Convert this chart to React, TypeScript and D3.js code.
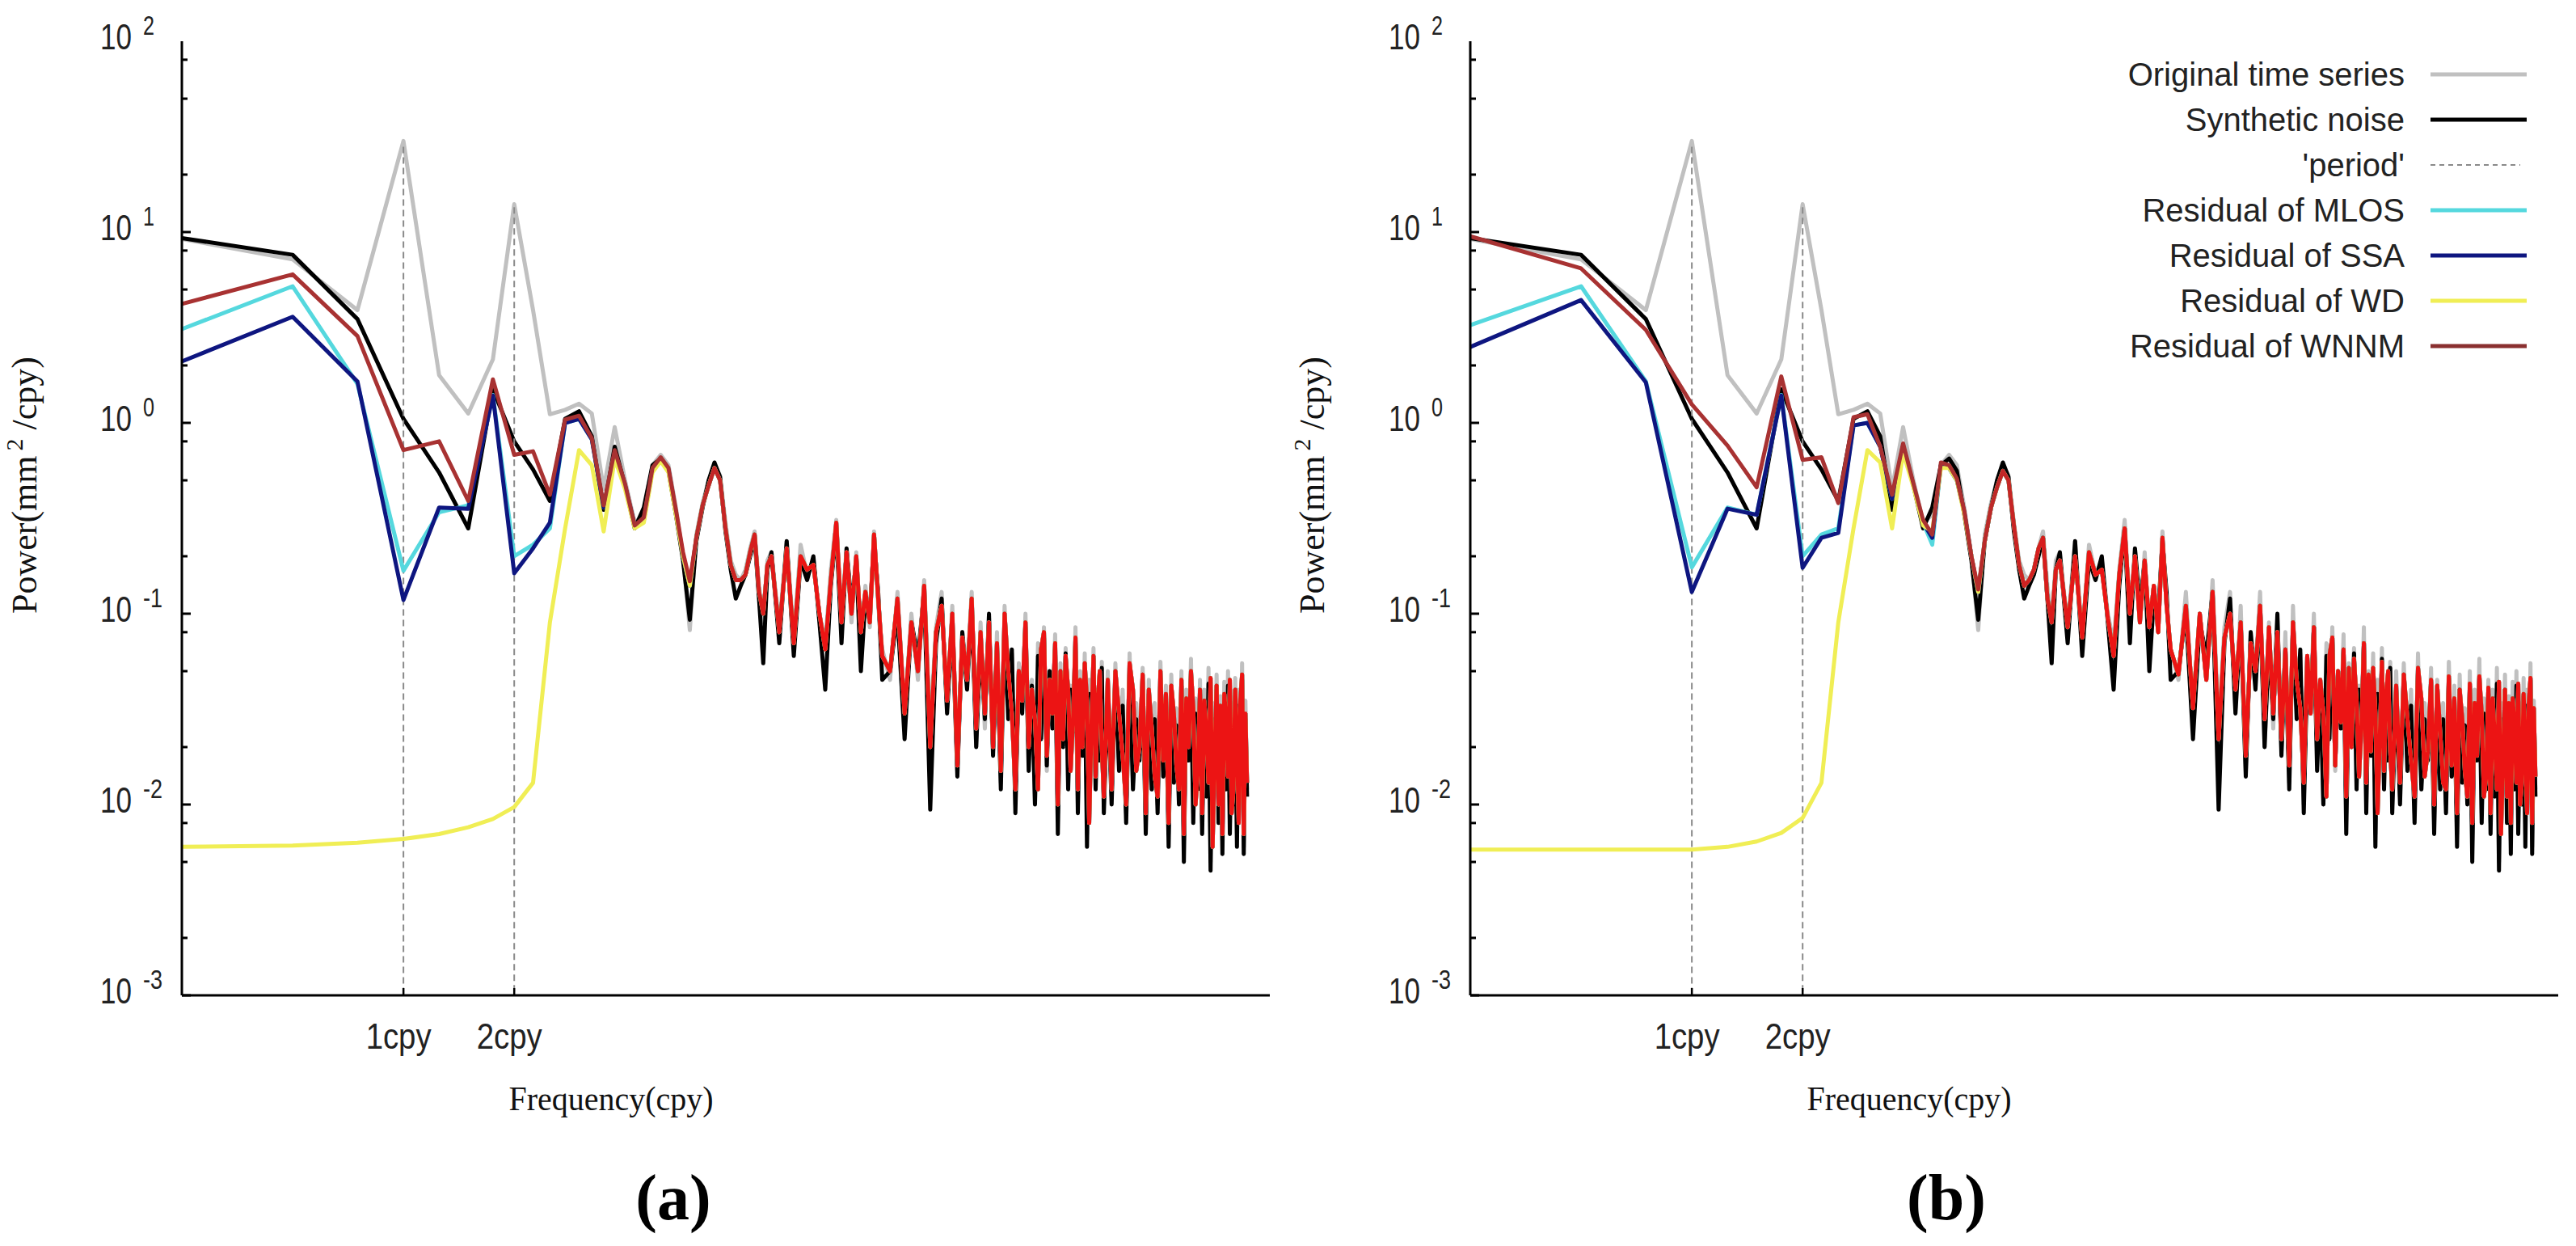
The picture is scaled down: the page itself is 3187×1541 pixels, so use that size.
import { useEffect } from 'react';
import * as d3 from 'd3';

type Pt = [number, number];

// frequency bins (cpy) of the low end, one every 0.25 cpy
const lowFreqs = [0.25, 0.5, 0.75, 1, 1.25, 1.5, 1.75, 2, 2.25, 2.5, 2.75, 3, 3.25, 3.5, 3.75, 4, 4.25, 4.5, 4.75, 5, 5.25, 5.5, 5.75, 6];

// thinned frequency bins of the noisy high end
const tailFreqs = [
  6.25, 6.5, 6.75, 7, 7.25, 7.5, 7.75, 8, 8.25, 8.5, 8.75, 9, 9.25, 9.5, 9.75, 10,
  10.5, 11, 11.5, 12, 12.5, 13, 13.5, 14, 14.5, 15, 15.5, 16, 16.5, 17, 17.5, 18, 18.5, 19, 19.5, 20,
  21, 22, 23, 24, 25, 26, 27, 28, 29, 30, 31, 32, 33, 34, 35, 36, 37, 38, 39, 40,
  41, 42, 43, 44, 45, 46, 47, 48, 49, 50, 51, 52, 53, 54, 55, 56, 57, 58, 59, 60,
  61, 62, 63, 64, 65, 66, 67, 68, 69, 70, 71, 72, 73, 74, 75, 76, 77, 78, 79, 80,
  82, 84, 86, 88, 90, 92, 94, 96, 98, 100, 102, 104, 106, 108, 110, 112, 114, 116, 118, 120,
  122, 124, 126, 128, 130, 132, 134, 136, 138, 140, 142, 144, 146, 148, 150, 152, 154, 156, 158, 160,
  162, 164, 166, 168, 170, 172, 174, 176, 178, 180, 182, 184, 186, 188, 190, 192, 194, 196,
];

// original time series and synthetic noise (same in both panels)
const originalLow = [9.2, 7.2, 3.9, 30, 1.78, 1.12, 2.15, 14, 3.9, 1.11, 1.17, 1.26, 1.12, 0.45, 0.95, 0.5, 0.3, 0.33, 0.6, 0.68, 0.6, 0.36, 0.2, 0.082];
const originalTail = [
  0.26, 0.38, 0.5, 0.6, 0.53, 0.3, 0.19, 0.16, 0.15, 0.17, 0.22, 0.27, 0.14, 0.09, 0.19, 0.21,
  0.085, 0.24, 0.075, 0.23, 0.16, 0.19, 0.1, 0.07, 0.17, 0.31, 0.1, 0.22, 0.09, 0.21, 0.075, 0.14, 0.085, 0.27, 0.11, 0.065,
  0.045, 0.13, 0.03, 0.1, 0.045, 0.15, 0.025, 0.085, 0.13, 0.032, 0.11, 0.015, 0.08, 0.05, 0.13, 0.02, 0.09, 0.025, 0.095, 0.019,
  0.08, 0.013, 0.11, 0.03, 0.062, 0.01, 0.055, 0.032, 0.1, 0.018, 0.045, 0.01, 0.07, 0.022, 0.085, 0.015, 0.05, 0.026, 0.078, 0.009,
  0.055, 0.02, 0.066, 0.013, 0.042, 0.025, 0.085, 0.01, 0.05, 0.018, 0.062, 0.007, 0.045, 0.022, 0.066, 0.012, 0.04, 0.018, 0.056, 0.01,
  0.05, 0.011, 0.055, 0.016, 0.04, 0.009, 0.062, 0.013, 0.034, 0.018, 0.052, 0.008, 0.045, 0.012, 0.034, 0.01, 0.056, 0.015, 0.042, 0.007,
  0.048, 0.014, 0.032, 0.011, 0.05, 0.0065, 0.04, 0.018, 0.058, 0.009, 0.036, 0.013, 0.045, 0.008, 0.04, 0.012, 0.052, 0.005, 0.034, 0.016,
  0.048, 0.009, 0.037, 0.0065, 0.044, 0.013, 0.05, 0.008, 0.034, 0.011, 0.046, 0.007, 0.04, 0.014, 0.055, 0.006, 0.035, 0.012,
];
const syntheticLow = [9.3, 7.6, 3.5, 1.05, 0.55, 0.28, 1.5, 0.8, 0.57, 0.39, 1.05, 1.15, 0.85, 0.35, 0.75, 0.47, 0.28, 0.36, 0.6, 0.65, 0.56, 0.33, 0.19, 0.093];
const syntheticTail = [
  0.24, 0.36, 0.5, 0.62, 0.52, 0.27, 0.17, 0.12, 0.14, 0.16, 0.2, 0.25, 0.12, 0.055, 0.17, 0.21,
  0.07, 0.24, 0.06, 0.19, 0.15, 0.2, 0.09, 0.04, 0.14, 0.28, 0.07, 0.22, 0.11, 0.19, 0.05, 0.12, 0.1, 0.24, 0.13, 0.045,
  0.05, 0.1, 0.022, 0.09, 0.06, 0.13, 0.0094, 0.07, 0.12, 0.03, 0.09, 0.014, 0.08, 0.04, 0.11, 0.02, 0.07, 0.028, 0.1, 0.018,
  0.065, 0.012, 0.09, 0.028, 0.065, 0.009, 0.05, 0.03, 0.085, 0.015, 0.042, 0.01, 0.06, 0.022, 0.075, 0.016, 0.05, 0.025, 0.065, 0.007,
  0.048, 0.02, 0.062, 0.012, 0.04, 0.024, 0.07, 0.009, 0.042, 0.018, 0.05, 0.006, 0.038, 0.022, 0.058, 0.012, 0.033, 0.017, 0.052, 0.009,
  0.04, 0.01, 0.048, 0.015, 0.033, 0.008, 0.05, 0.012, 0.028, 0.017, 0.044, 0.007, 0.038, 0.012, 0.028, 0.009, 0.046, 0.014, 0.036, 0.006,
  0.04, 0.013, 0.026, 0.01, 0.042, 0.005, 0.034, 0.017, 0.046, 0.008, 0.03, 0.012, 0.038, 0.007, 0.032, 0.011, 0.043, 0.0045, 0.028, 0.015,
  0.04, 0.008, 0.031, 0.0055, 0.036, 0.012, 0.042, 0.007, 0.028, 0.01, 0.037, 0.006, 0.033, 0.013, 0.045, 0.0055, 0.028, 0.011,
];

// panel (a) residuals
const mlosLowA = [3.1, 5.2, 1.6, 0.168, 0.34, 0.37, 1.4, 0.2, 0.23, 0.28, 1.0, 1.05, 0.82, 0.36, 0.7, 0.47, 0.29, 0.31, 0.57, 0.65, 0.57, 0.34, 0.2, 0.14];
const ssaLowA = [2.1, 3.6, 1.65, 0.118, 0.36, 0.355, 1.39, 0.163, 0.22, 0.3, 1.0, 1.05, 0.82, 0.36, 0.7, 0.47, 0.29, 0.31, 0.57, 0.65, 0.57, 0.34, 0.2, 0.14];
const wdLowA = [0.006, 0.0061, 0.0063, 0.0066, 0.007, 0.0076, 0.0084, 0.0097, 0.013, 0.09, 0.28, 0.72, 0.6, 0.27, 0.65, 0.45, 0.28, 0.3, 0.55, 0.63, 0.55, 0.33, 0.2, 0.14];
const wnnmLowA = [4.2, 6.0, 2.85, 0.72, 0.8, 0.39, 1.69, 0.68, 0.71, 0.42, 1.04, 1.09, 0.83, 0.37, 0.72, 0.48, 0.29, 0.32, 0.58, 0.66, 0.58, 0.35, 0.21, 0.148];
const residualTailA = [
  0.25, 0.37, 0.47, 0.58, 0.5, 0.28, 0.18, 0.15, 0.15, 0.16, 0.21, 0.26, 0.13, 0.1, 0.18, 0.2,
  0.08, 0.22, 0.07, 0.2, 0.17, 0.18, 0.1, 0.065, 0.15, 0.3, 0.09, 0.21, 0.1, 0.2, 0.08, 0.13, 0.09, 0.26, 0.12, 0.06,
  0.05, 0.12, 0.03, 0.09, 0.05, 0.14, 0.02, 0.08, 0.11, 0.035, 0.1, 0.016, 0.075, 0.045, 0.12, 0.025, 0.08, 0.03, 0.09, 0.02,
  0.07, 0.015, 0.1, 0.05, 0.03, 0.012, 0.05, 0.035, 0.09, 0.02, 0.04, 0.028, 0.012, 0.065, 0.08, 0.018, 0.045, 0.03, 0.07, 0.01,
  0.05, 0.022, 0.06, 0.04, 0.015, 0.028, 0.075, 0.012, 0.045, 0.02, 0.055, 0.035, 0.008, 0.025, 0.06, 0.014, 0.035, 0.05, 0.02, 0.011,
  0.045, 0.012, 0.05, 0.03, 0.018, 0.01, 0.055, 0.04, 0.015, 0.02, 0.048, 0.009, 0.04, 0.025, 0.014, 0.011, 0.05, 0.017, 0.038, 0.008,
  0.042, 0.03, 0.016, 0.012, 0.045, 0.007, 0.036, 0.02, 0.05, 0.032, 0.01, 0.015, 0.04, 0.009, 0.035, 0.024, 0.013, 0.046, 0.006, 0.018,
  0.042, 0.01, 0.033, 0.007, 0.038, 0.028, 0.014, 0.045, 0.009, 0.012, 0.04, 0.022, 0.008, 0.035, 0.048, 0.007, 0.03, 0.013,
];

// panel (b) residuals
const mlosLowB = [3.25, 5.2, 1.65, 0.175, 0.36, 0.33, 1.4, 0.2, 0.26, 0.28, 0.97, 1.0, 0.75, 0.4, 0.76, 0.47, 0.3, 0.23, 0.6, 0.58, 0.5, 0.34, 0.2, 0.13];
const ssaLowB = [2.5, 4.4, 1.63, 0.13, 0.355, 0.33, 1.39, 0.174, 0.25, 0.265, 0.97, 1.0, 0.75, 0.4, 0.76, 0.47, 0.3, 0.25, 0.6, 0.58, 0.5, 0.34, 0.2, 0.13];
const wdLowB = [0.0058, 0.0058, 0.0058, 0.0058, 0.006, 0.0064, 0.0071, 0.0085, 0.013, 0.09, 0.28, 0.72, 0.62, 0.28, 0.7, 0.46, 0.29, 0.27, 0.58, 0.58, 0.5, 0.33, 0.2, 0.13];
const wnnmLowB = [9.5, 6.45, 3.07, 1.25, 0.76, 0.46, 1.75, 0.64, 0.66, 0.38, 1.07, 1.11, 0.75, 0.42, 0.78, 0.48, 0.31, 0.26, 0.62, 0.6, 0.51, 0.345, 0.2, 0.134];
const residualTailB = [
  0.24, 0.36, 0.46, 0.56, 0.5, 0.29, 0.18, 0.14, 0.15, 0.17, 0.22, 0.25, 0.12, 0.09, 0.17, 0.19,
  0.085, 0.2, 0.075, 0.21, 0.16, 0.17, 0.095, 0.06, 0.16, 0.28, 0.1, 0.2, 0.09, 0.19, 0.085, 0.14, 0.08, 0.25, 0.11, 0.065,
  0.048, 0.11, 0.032, 0.1, 0.045, 0.13, 0.022, 0.075, 0.1, 0.04, 0.09, 0.018, 0.07, 0.05, 0.11, 0.028, 0.085, 0.03, 0.08, 0.022,
  0.065, 0.016, 0.09, 0.045, 0.032, 0.013, 0.06, 0.03, 0.085, 0.022, 0.045, 0.03, 0.011, 0.06, 0.075, 0.016, 0.05, 0.027, 0.065, 0.011,
  0.052, 0.02, 0.058, 0.035, 0.014, 0.026, 0.07, 0.013, 0.048, 0.019, 0.052, 0.03, 0.009, 0.022, 0.056, 0.015, 0.038, 0.05, 0.019, 0.012,
  0.042, 0.013, 0.048, 0.028, 0.017, 0.011, 0.052, 0.036, 0.014, 0.019, 0.045, 0.01, 0.042, 0.024, 0.013, 0.012, 0.047, 0.016, 0.036, 0.009,
  0.04, 0.028, 0.015, 0.011, 0.043, 0.008, 0.034, 0.018, 0.047, 0.03, 0.011, 0.014, 0.041, 0.009, 0.036, 0.022, 0.012, 0.044, 0.007, 0.017,
  0.04, 0.011, 0.034, 0.008, 0.036, 0.026, 0.013, 0.043, 0.01, 0.013, 0.038, 0.02, 0.009, 0.034, 0.046, 0.008, 0.032, 0.014,
];

// the 'period' markers: frequency and top of the dashed line
const periodFreqs = [1, 2];
const periodTops = [28, 13.5];

const xTickFreqs = [1, 2];
const xTickLabels = ['1cpy', '2cpy'];
const decades = [-3, -2, -1, 0, 1, 2];
const minorSteps = [2, 5, 8];

const legendLabels = ['Original time series', 'Synthetic noise', "'period'", 'Residual of MLOS', 'Residual of SSA', 'Residual of WD', 'Residual of WNNM'];

const COLORS = {
  original: '#c0c0c0',
  synthetic: '#000000',
  period: '#8a8a8a',
  mlos: '#55d8de',
  ssa: '#0e1680',
  wd: '#f0ee55',
  wnnm: '#a83232',
  wnnmTail: '#ec1414',
};

const PLOT_TOP = 51;
const PLOT_BOTTOM = 1231;
const PLOT_WIDTH = 1346;
const LINE_W = 5;

const join = (low: number[], tail: number[]): Pt[] => {
  const pts: Pt[] = [];
  lowFreqs.forEach((f, i) => { if (low[i] != null) pts.push([f, low[i]]); });
  tailFreqs.forEach((f, i) => { if (tail[i] != null) pts.push([f, tail[i]]); });
  return pts;
};

interface PanelProps {
  id: string;
  left: number;
  titleX: number;
  freqX: number;
  capX: number;
  mlos: number[];
  ssa: number[];
  wd: number[];
  wnnm: number[];
  tail: number[];
  legend?: boolean;
}

const Panel = ({ id, left, titleX, freqX, capX, mlos, ssa, wd, wnnm, tail, legend }: PanelProps) => {
  const x = d3.scaleLog().domain([0.25, 226]).range([left, left + PLOT_WIDTH]);
  const y = d3.scaleLog().domain([1e-3, 1e2]).range([PLOT_BOTTOM, PLOT_TOP]);
  const line = d3.line<Pt>().x(d => x(d[0])).y(d => y(d[1]));

  const series = [
    { key: 'orig', data: join(originalLow, originalTail), color: COLORS.original },
    { key: 'syn', data: join(syntheticLow, syntheticTail), color: COLORS.synthetic },
    { key: 'mlos', data: join(mlos, tail), color: COLORS.mlos },
    { key: 'ssa', data: join(ssa, tail), color: COLORS.ssa },
    { key: 'wd', data: join(wd, tail), color: COLORS.wd },
    { key: 'wnnm', data: join(wnnm, tail), color: `url(#wnnm-${id})` },
  ];

  const minorTicks = decades.slice(0, -1).flatMap(e => minorSteps.map(m => m * Math.pow(10, e)));

  return (
    <g>
      <defs>
        <linearGradient id={`wnnm-${id}`} gradientUnits="userSpaceOnUse" x1={x(5)} x2={x(12)} y1={0} y2={0}>
          <stop offset="0" stopColor={COLORS.wnnm} />
          <stop offset="1" stopColor={COLORS.wnnmTail} />
        </linearGradient>
      </defs>

      {/* data */}
      {series.slice(0, 2).map(s => (
        <path key={s.key} d={line(s.data) || ''} fill="none" stroke={s.color} strokeWidth={LINE_W} strokeLinejoin="round" />
      ))}
      {periodFreqs.map((f, i) => (
        <line key={f} x1={x(f)} x2={x(f)} y1={y(periodTops[i])} y2={PLOT_BOTTOM}
          stroke={COLORS.period} strokeWidth={2} strokeDasharray="8,5" />
      ))}
      {series.slice(2).map(s => (
        <path key={s.key} d={line(s.data) || ''} fill="none" stroke={s.color} strokeWidth={LINE_W} strokeLinejoin="round" />
      ))}

      {/* axes */}
      <line x1={left} x2={left} y1={PLOT_TOP} y2={PLOT_BOTTOM} stroke="#000" strokeWidth={3} />
      <line x1={left} x2={left + PLOT_WIDTH} y1={PLOT_BOTTOM} y2={PLOT_BOTTOM} stroke="#000" strokeWidth={3} />
      {decades.slice(0, -1).map(e => (
        <line key={e} x1={left} x2={left + 11} y1={y(Math.pow(10, e))} y2={y(Math.pow(10, e))} stroke="#000" strokeWidth={3} />
      ))}
      {minorTicks.map(v => (
        <line key={v} x1={left} x2={left + 7} y1={y(v)} y2={y(v)} stroke="#000" strokeWidth={3} />
      ))}
      {decades.map(e => (
        <g key={e} fill="#222" fontFamily="Liberation Sans, Arial, sans-serif">
          <text x={left - 101} y={y(Math.pow(10, e)) + 10} fontSize={45} textLength={39} lengthAdjust="spacingAndGlyphs">10</text>
          <text x={left - 48} y={y(Math.pow(10, e)) - 8} fontSize={33} textLength={e < 0 ? 24 : 14} lengthAdjust="spacingAndGlyphs">{e}</text>
        </g>
      ))}
      {xTickFreqs.map((f, i) => (
        <g key={f}>
          <line x1={x(f)} x2={x(f)} y1={PLOT_BOTTOM} y2={PLOT_BOTTOM - 9} stroke="#000" strokeWidth={2.5} />
          <text x={x(f) - 6} y={1297} textAnchor="middle" fontSize={45} fill="#222" textLength={81} lengthAdjust="spacingAndGlyphs"
            fontFamily="Liberation Sans, Arial, sans-serif">{xTickLabels[i]}</text>
        </g>
      ))}

      {/* titles */}
      <text x={freqX} y={1373} textAnchor="middle" fontSize={42} fill="#111" textLength={253} lengthAdjust="spacingAndGlyphs"
        fontFamily="Liberation Serif, Times New Roman, serif">Frequency(cpy)</text>
      <text transform={`translate(${titleX},600) rotate(-90)`} textAnchor="middle" fontSize={44} fill="#111"
        fontFamily="Liberation Serif, Times New Roman, serif">
        Power(mm<tspan dx={6} dy={-17} fontSize={30}>2</tspan><tspan dy={17}> /cpy)</tspan>
      </text>
      <text x={capX} y={1508} textAnchor="middle" fontSize={80} fontWeight="bold" fill="#000"
        fontFamily="Liberation Serif, Times New Roman, serif">({id})</text>

      {/* legend */}
      {legend && legendLabels.map((label, i) => {
        const ry = 92 + i * 56;
        const colors = [COLORS.original, COLORS.synthetic, COLORS.period, COLORS.mlos, COLORS.ssa, COLORS.wd, '#8a3030'];
        const dashed = i === 2;
        return (
          <g key={label}>
            <text x={2975} y={ry + 14} textAnchor="end" fontSize={40} fill="#222"
              fontFamily="Liberation Sans, Arial, sans-serif">{label}</text>
            <line x1={3007} x2={dashed ? 3118 : 3126} y1={ry} y2={ry} stroke={colors[i]}
              strokeWidth={dashed ? 2 : 5} strokeDasharray={dashed ? '6,5' : undefined} />
          </g>
        );
      })}
    </g>
  );
};

const App = () => {
  useEffect(() => {
    document.body.style.margin = '0';
  }, []);

  return (
    <svg width={3187} height={1541} viewBox="0 0 3187 1541" style={{ display: 'block', background: '#fff' }}>
      <rect width={3187} height={1541} fill="#fff" />
      <Panel id="a" left={225} titleX={45} freqX={756} capX={833}
        mlos={mlosLowA} ssa={ssaLowA} wd={wdLowA} wnnm={wnnmLowA} tail={residualTailA} />
      <Panel id="b" left={1819} titleX={1638} freqX={2362} capX={2408}
        mlos={mlosLowB} ssa={ssaLowB} wd={wdLowB} wnnm={wnnmLowB} tail={residualTailB} legend />
    </svg>
  );
};

export default App;
